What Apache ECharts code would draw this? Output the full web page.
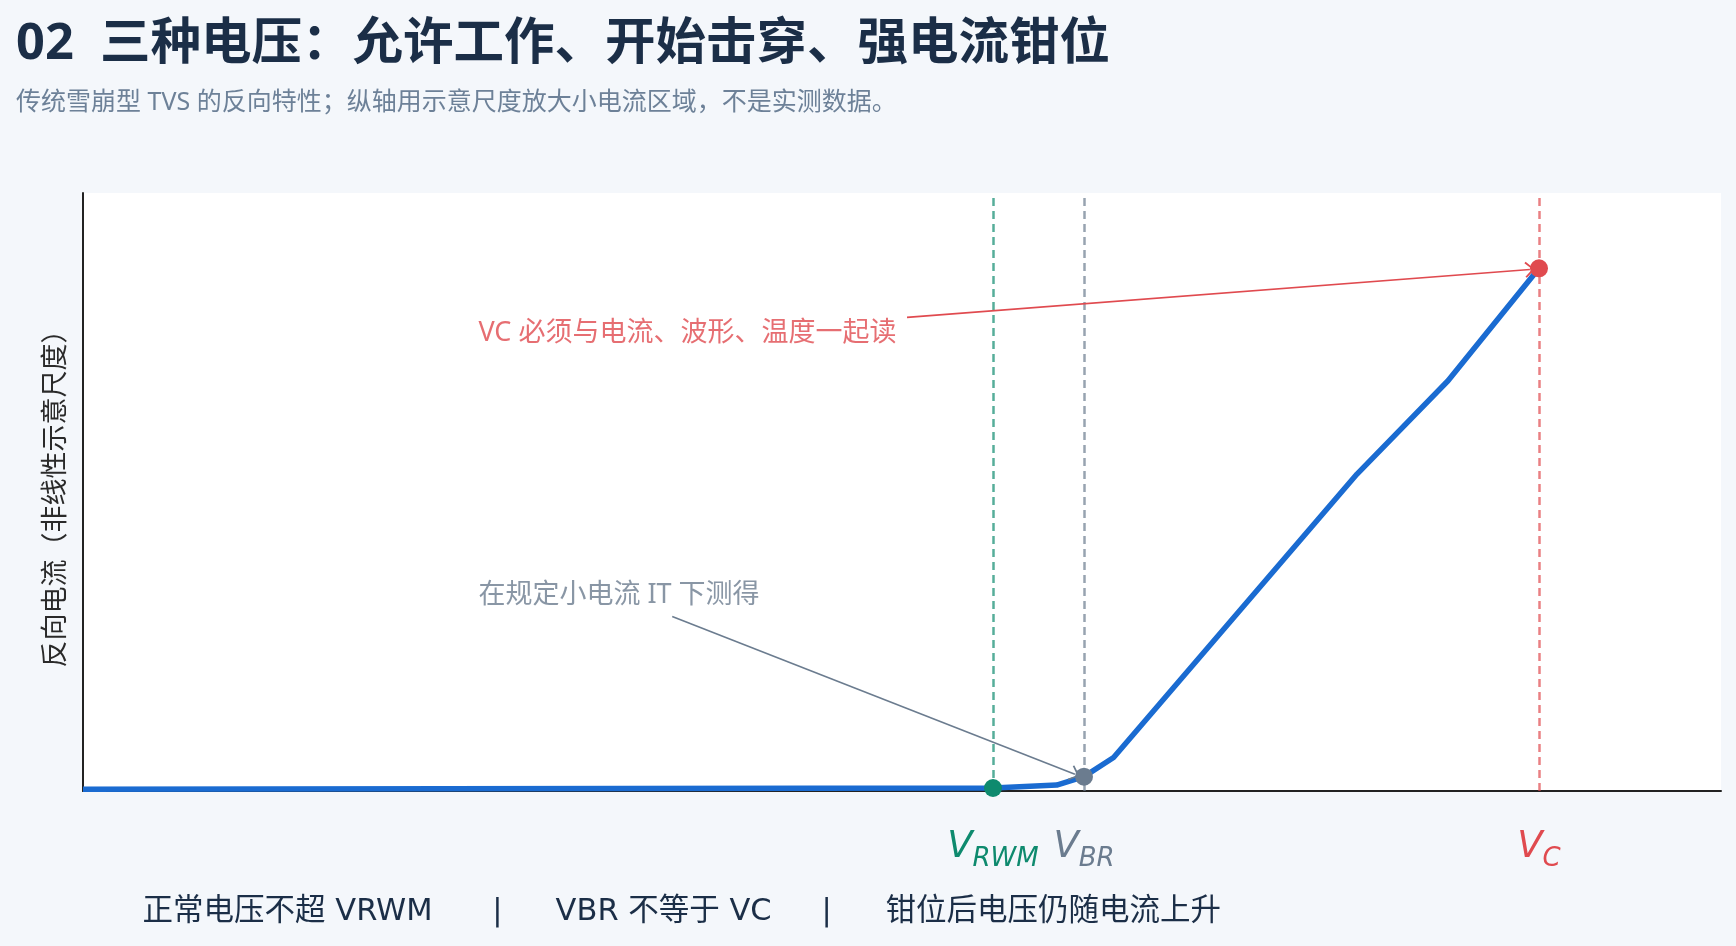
<!DOCTYPE html>
<html>
<head>
<meta charset="utf-8">
<script src="https://cdn.jsdelivr.net/npm/echarts@6/dist/echarts.min.js"></script>
<style>
html,body{margin:0;padding:0;background:#f4f7fb;}
#chart{width:1736px;height:946px;}
</style>
</head>
<body>
<div id="chart"></div>
<script>
// ---- data ----
const titleText = '02  三种电压：允许工作、开始击穿、强电流钳位';
const subtitleText = '传统雪崩型 TVS 的反向特性；纵轴用示意尺度放大小电流区域，不是实测数据。';
const yAxisName = '反向电流（非线性示意尺度）';

// reverse I-V curve (voltage in arbitrary units, current in schematic %)
const curveV = [0, 20, 21.4, 22, 22.65, 28, 30, 32];
const curveI = [0.3, 0.5, 1.0, 2.4, 5.6, 53, 68.6, 87.4];

// key voltages
const keyNames = ['RWM', 'BR', 'C'];
const keyV = [20, 22, 32];
const keyI = [0.5, 2.4, 87.4];
const keyColors = ['#0e8a6e', '#6b7c8f', '#e04a4f'];

// annotations
const noteTexts = ['VC 必须与电流、波形、温度一起读', '在规定小电流 IT 下测得'];
const notePos = [[8.69, 76.6], [8.69, 32.8]];
const arrowFrom = [[18.11, 79.2], [12.95, 29.2]];
const arrowTo = [[31.8, 87.2], [21.8, 2.8]];
const noteColors = ['#e04a4f', '#6b7c8f'];

// footer
const footerItems = ['正常电压不超 VRWM', '|', 'VBR 不等于 VC', '|', '钳位后电压仍随电流上升'];

const xMin = 0, xMax = 36, yMin = 0, yMax = 100;
// ---------------------------------------

const CJK = '"Noto Sans", "Noto Sans CJK SC", sans-serif';
const DJ = '"DejaVu Sans", "Noto Sans CJK SC", sans-serif';
const chart = echarts.init(document.getElementById('chart'), null, {renderer: 'canvas'});

const rich = {};
keyNames.forEach((n, i) => {
  rich['v' + i] = {fontSize: 37, fontStyle: 'italic', fontFamily: 'DejaVu Sans', color: keyColors[i], lineHeight: 46};
  rich['s' + i] = {fontSize: 26, fontStyle: 'italic', fontFamily: 'DejaVu Sans', color: keyColors[i], lineHeight: 26, padding: [25, 0, 0, 0]};
});

const ARROW = 'path://M10,0 L20,10 L18.5,11.5 L10,3 L1.5,11.5 L0,10 Z';

const footerX = [142.6, 497.5, 555.6, 826.7, 885.6];
const footerAlign = ['left', 'center', 'left', 'center', 'left'];

const option = {
  backgroundColor: '#f4f7fb',
  animation: false,
  grid: {left: 83, right: 15, top: 193, bottom: 155, show: true, backgroundColor: '#ffffff', borderWidth: 0},
  xAxis: {
    type: 'value', min: xMin, max: xMax,
    axisLine: {show: true, onZero: false, lineStyle: {color: '#222222', width: 2}},
    axisTick: {show: false},
    splitLine: {show: false},
    axisLabel: {
      show: true,
      customValues: keyV,
      margin: 33,
      formatter: function (v) {
        const i = keyV.indexOf(v);
        if (i < 0) return '';
        return '{v' + i + '|V}{s' + i + '|' + keyNames[i] + '}';
      },
      rich: rich
    }
  },
  yAxis: {
    type: 'value', min: yMin, max: yMax,
    axisLine: {show: true, onZero: false, lineStyle: {color: '#222222', width: 2}},
    axisTick: {show: false},
    axisLabel: {show: false},
    splitLine: {show: false},
    name: yAxisName,
    nameLocation: 'middle',
    nameRotate: 90,
    nameGap: 13,
    nameTextStyle: {fontSize: 27, color: '#2a2a2a', fontFamily: CJK}
  },
  graphic: [
    {type: 'text', left: 16, top: 19, z: 10, style: {text: titleText, fontSize: 50.5, fontWeight: 'bold', fill: '#1b2e47', fontFamily: CJK}},
    {type: 'text', left: 16, top: 90, z: 10, style: {text: subtitleText, fontSize: 25, fill: '#6d8198', fontFamily: CJK}}
  ].concat(footerItems.map((t, i) => ({
    type: 'text', z: 10,
    x: footerX[i], y: 912,
    style: {text: t, fontSize: 30.5, fill: '#1b2e47', fontFamily: DJ, align: footerAlign[i], verticalAlign: 'middle'}
  }))),
  series: [
    {
      type: 'line',
      data: curveV.map((v, i) => [v, curveI[i]]),
      showSymbol: false,
      symbol: 'none',
      lineStyle: {color: '#1a6bd1', width: 5.5},
      z: 3,
      markLine: {
        silent: true,
        symbol: 'none',
        label: {show: false},
        z: 1,
        data: keyV.map((v, i) => ({
          xAxis: v,
          lineStyle: {color: keyColors[i], type: [8, 5], width: 2.5, opacity: 0.7}
        }))
      }
    },
    {
      type: 'scatter',
      data: keyV.map((v, i) => ({value: [v, keyI[i]], itemStyle: {color: keyColors[i], opacity: 1}})),
      symbolSize: 18,
      z: 5,
      markLine: {
        silent: true,
        symbol: ['none', ARROW],
        symbolSize: [16, 10],
        label: {show: false},
        data: arrowFrom.map((p, i) => [
          {coord: p, lineStyle: {color: noteColors[i], width: 1.6, type: 'solid', opacity: 1}},
          {coord: arrowTo[i]}
        ])
      }
    },
    {
      type: 'scatter',
      data: notePos.map((p, i) => ({
        value: p,
        label: {show: true, position: 'right', distance: 0, formatter: noteTexts[i], color: noteColors[i], fontSize: 27, fontFamily: CJK}
      })),
      symbolSize: 0,
      silent: true,
      z: 6
    }
  ]
};
chart.setOption(option);
</script>
</body>
</html>
